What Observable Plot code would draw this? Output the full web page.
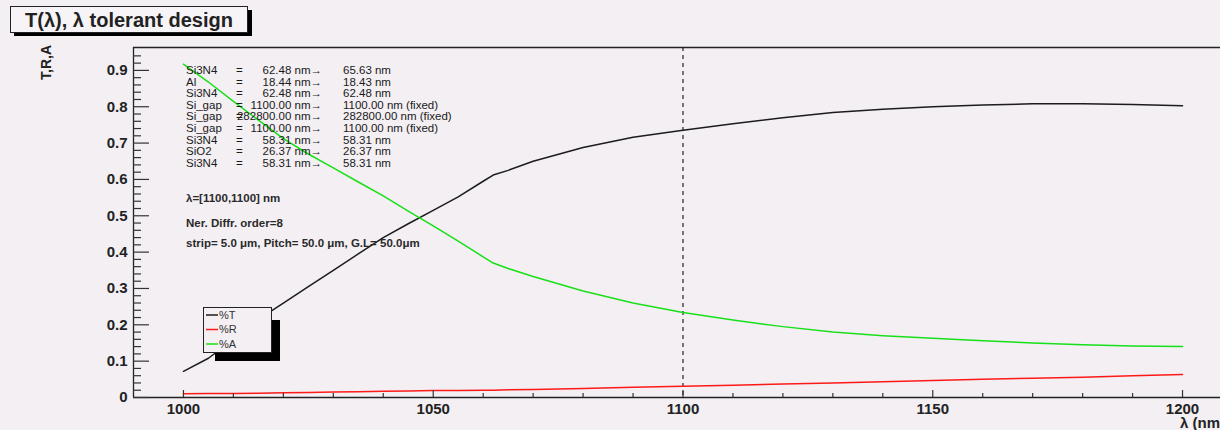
<!DOCTYPE html>
<html><head><meta charset="utf-8">
<script src="https://cdn.jsdelivr.net/npm/d3@7"></script>
<script src="https://cdn.jsdelivr.net/npm/@observablehq/plot@0.6"></script>
<style>
html,body{margin:0;padding:0;background:#f3eff3;}
#chart{position:relative;width:1220px;height:430px;overflow:hidden;}
</style></head><body><div id="chart"></div>
<script>
// ---- data ----
const wavelength = [1000,1005,1010,1015,1020,1025,1030,1035,1040,1045,1050,1055,1060,1062,1065,1070,1080,1090,1100,1110,1120,1130,1140,1150,1160,1170,1180,1190,1200];
const transT = [0.072,0.108,0.160,0.215,0.260,0.305,0.350,0.395,0.440,0.478,0.515,0.552,0.595,0.612,0.625,0.650,0.688,0.716,0.735,0.753,0.770,0.784,0.793,0.800,0.805,0.808,0.808,0.806,0.803];
const reflR = [0.010,0.011,0.011,0.012,0.013,0.014,0.015,0.016,0.017,0.018,0.019,0.019,0.020,0.020,0.021,0.022,0.025,0.028,0.031,0.034,0.037,0.040,0.043,0.047,0.050,0.053,0.056,0.060,0.063];
const absA = [0.917,0.868,0.815,0.763,0.712,0.670,0.632,0.593,0.555,0.513,0.472,0.430,0.387,0.370,0.355,0.333,0.293,0.260,0.234,0.213,0.195,0.180,0.170,0.163,0.156,0.150,0.145,0.142,0.140];
const seriesNames = ["%T","%R","%A"];
const seriesColors = ["#1c1c1c","#ff1a1a","#18e018"];
const yTicks = [0,0.1,0.2,0.3,0.4,0.5,0.6,0.7,0.8,0.9];
const yTickLabels = ["0","0.1","0.2","0.3","0.4","0.5","0.6","0.7","0.8","0.9"];
const xTicks = [1000,1050,1100,1150,1200];
const xTickLabels = ["1000","1050","1100","1150","1200"];
const markerWavelength = [1100];
const titleText = "T(λ), λ tolerant design";
const yTitle = "T,R,A";
const xTitle = "λ (nm)";
const layerNames = ["Si3N4","Al","Si3N4","Si_gap","Si_gap","Si_gap","Si3N4","SiO2","Si3N4"];
const layerFrom = ["62.48","18.44","62.48","1100.00","282800.00","1100.00","58.31","26.37","58.31"];
const layerTo = ["65.63","18.43","62.48","1100.00","282800.00","1100.00","58.31","26.37","58.31"];
const layerFixed = [false,false,false,true,true,true,false,false,false];
const infoLines = ["λ=[1100,1100] nm","Ner. Diffr. order=8","strip= 5.0 μm, Pitch= 50.0 μm, G.L= 50.0μm"];

// ---- build ----
const W = 1220, H = 430, mL = 133, mR = 0, mT = 47, mB = 33;
const innerW = W - mL - mR, innerH = H - mT - mB;
const xDomain = [990, 1207.6];
const yDomain = [0, 0.963];
const series = [transT, reflR, absA];
const rows = [];
series.forEach((vals, s) => wavelength.forEach((w, i) => rows.push({w, v: vals[i], s: seriesNames[s]})));
const xMinor = d3.range(1000, 1201, 10).filter(d => !xTicks.includes(d));
const yMinor = d3.range(0, 48).map(i => +(i * 0.02).toFixed(2)).filter(d => d <= yDomain[1] && !yTicks.some(t => Math.abs(t - d) < 1e-9));

const font = "Liberation Sans, Arial, Helvetica, sans-serif";
const tickColor = "#333";
const plot = Plot.plot({
  width: W, height: H,
  marginLeft: mL, marginRight: mR, marginTop: mT, marginBottom: mB,
  style: {background: "#f3eff3", fontFamily: font, overflow: "visible"},
  x: {domain: xDomain, axis: null},
  y: {domain: yDomain, axis: null},
  color: {domain: seriesNames, range: seriesColors},
  marks: [
    Plot.ruleX(markerWavelength, {stroke: "#555", strokeWidth: 1.6, strokeDasharray: "4,4"}),
    Plot.line(rows, {x: "w", y: "v", z: "s", stroke: "s", strokeWidth: 1.5}),
    // frame
    Plot.ruleX([xDomain[0]], {stroke: "#222", strokeWidth: 1.3}),
    Plot.ruleY([yDomain[0]], {stroke: "#222", strokeWidth: 1.3}),
    Plot.ruleY([yDomain[1]], {stroke: "#222", strokeWidth: 1.3}),
    // y ticks drawn inward from the left edge
    Plot.ruleY(yTicks, {x1: xDomain[0], x2: xDomain[1], insetRight: innerW - 16, stroke: tickColor, strokeWidth: 1.2}),
    Plot.ruleY(yMinor, {x1: xDomain[0], x2: xDomain[1], insetRight: innerW - 8, stroke: tickColor, strokeWidth: 1.2}),
    Plot.axisY(yTicks, {anchor: "left", tickSize: 0, tickPadding: 6, tickFormat: d => yTickLabels[yTicks.indexOf(d)], fontSize: 15, fontWeight: "bold", fill: "#222", label: null}),
    // x ticks drawn upward from the bottom edge
    Plot.ruleX(xTicks, {y1: yDomain[1], y2: yDomain[0], insetTop: innerH - 7, stroke: tickColor, strokeWidth: 1.2}),
    Plot.ruleX(xMinor, {y1: yDomain[1], y2: yDomain[0], insetTop: innerH - 4, stroke: tickColor, strokeWidth: 1.2}),
    Plot.axisX(xTicks, {anchor: "bottom", tickSize: 0, tickPadding: 6, tickFormat: d => xTickLabels[xTicks.indexOf(d)], fontSize: 15, fontWeight: "bold", fill: "#222", label: null})
  ]
});
document.getElementById("chart").appendChild(plot);

const svg = d3.select(plot);
svg.selectAll("text").style("font-family", font);

function addText(g, x, y, str, opts = {}) {
  return g.append("text").attr("x", x).attr("y", y).attr("dy", "0.35em")
    .attr("text-anchor", opts.anchor || "start")
    .attr("font-family", font)
    .attr("font-size", opts.size || 11.5)
    .attr("font-weight", opts.weight || "normal")
    .attr("fill", opts.fill || "#1a1a1a")
    .text(str);
}

// annotation text block
const ann = svg.append("g");
layerNames.forEach((n, i) => {
  const y = 70 + i * 11.6;
  addText(ann, 186, y, n);
  addText(ann, 236, y, "=");
  addText(ann, 322, y, layerFrom[i] + " nm→", {anchor: "end"});
  addText(ann, 343, y, layerTo[i] + " nm" + (layerFixed[i] ? " (fixed)" : ""));
});
[198, 223, 243].forEach((y, i) => addText(ann, 186, y, infoLines[i], {weight: "bold", size: 11.5, fill: "#2a2a2a"}));

// axis titles
svg.append("text").attr("transform", "translate(46,45) rotate(-90)").attr("text-anchor", "end")
  .attr("dy", "0.35em").attr("font-family", font).attr("font-weight", "bold").attr("font-size", 14).attr("fill", "#222").text(yTitle);
addText(svg, 1180, 423, xTitle, {size: 15, weight: "bold", fill: "#222"});

// title box with shadow
svg.append("rect").attr("x", 14).attr("y", 10).attr("width", 238).attr("height", 26).attr("fill", "#000");
svg.append("rect").attr("x", 10.5).attr("y", 6.5).attr("width", 237).attr("height", 26).attr("fill", "#f7f4f7").attr("stroke", "#222").attr("stroke-width", 1);
addText(svg, 129, 20, titleText, {anchor: "middle", size: 20, weight: "bold", fill: "#222"});

// legend with shadow
svg.append("rect").attr("x", 215).attr("y", 320).attr("width", 65).attr("height", 41).attr("fill", "#000");
svg.append("rect").attr("x", 203.5).attr("y", 307.5).attr("width", 68).attr("height", 45).attr("fill", "#f3eff3").attr("stroke", "#222");
seriesNames.forEach((n, i) => {
  const y = 315 + i * 14.5;
  svg.append("line").attr("x1", 206).attr("x2", 218).attr("y1", y).attr("y2", y).attr("stroke", seriesColors[i]).attr("stroke-width", 1.5);
  addText(svg, 219, y, n, {size: 11, fill: "#333"});
});
</script></body></html>
